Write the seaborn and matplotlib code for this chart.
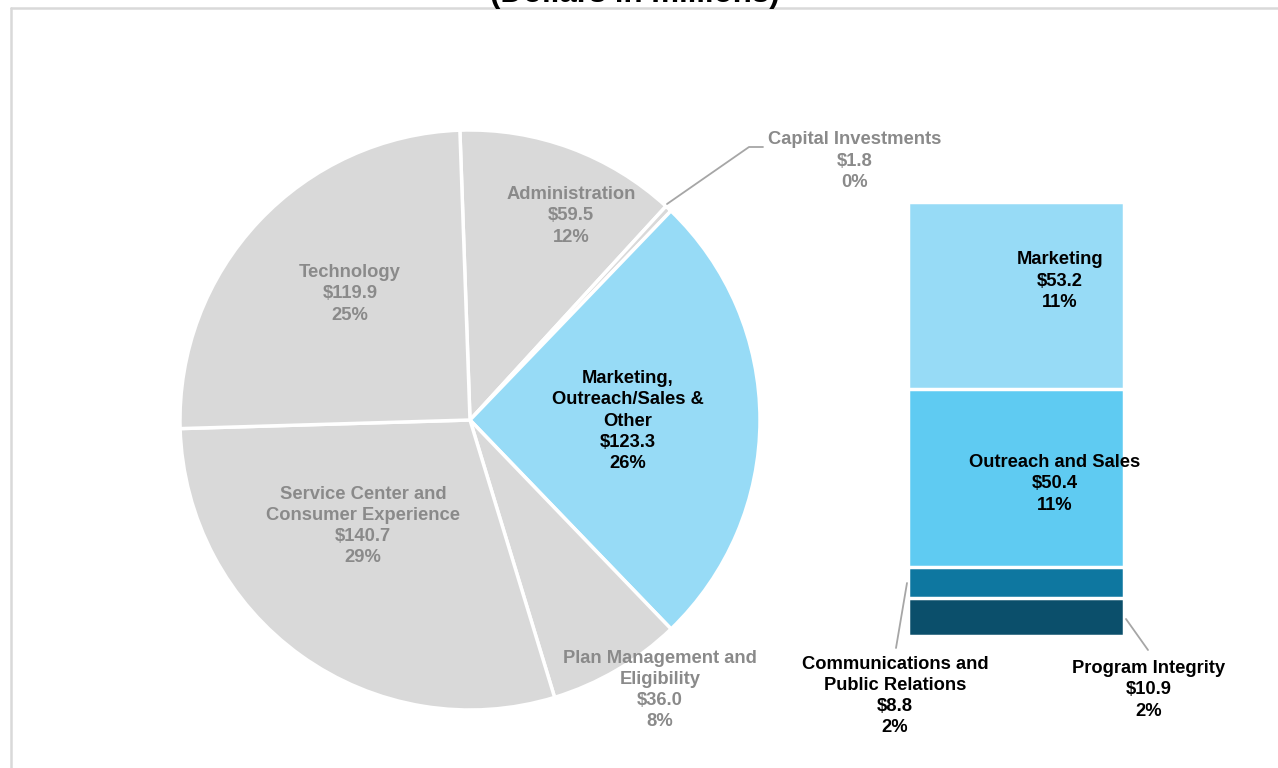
import numpy as np
import pandas as pd
import matplotlib
matplotlib.use("Agg")
import matplotlib.pyplot as plt
from matplotlib.lines import Line2D
import seaborn as sns

# ---- data (dollars in millions) ----
pie_labels = ["Administration", "Capital Investments", "Marketing,\nOutreach/Sales &\nOther",
              "Plan Management and\nEligibility", "Service Center and\nConsumer Experience", "Technology"]
pie_values = [59.5, 1.8, 123.3, 36.0, 140.7, 119.9]
pie_pcts = [12, 0, 26, 8, 29, 25]

bar_labels = ["Program Integrity", "Communications and\nPublic Relations", "Outreach and Sales", "Marketing"]
bar_values = [10.9, 8.8, 50.4, 53.2]
bar_pcts = [2, 2, 11, 11]

# ---- style ----
sns.set_theme(style="white")
plt.rcParams["font.family"] = ["Liberation Sans", "DejaVu Sans"]
plt.rcParams["font.weight"] = "bold"

GRAY_TXT = "#8a8a8a"
PIE_GRAY = "#d9d9d9"
LIGHT_BLUE = "#97dbf6"
pie_colors = [PIE_GRAY, PIE_GRAY, LIGHT_BLUE, PIE_GRAY, PIE_GRAY, PIE_GRAY]
bar_colors = ["#0b4f6b", "#0e77a0", "#5fcbf2", LIGHT_BLUE]

FS = 13.2
LS = 1.33

W, H = 1278, 768
fig = plt.figure(figsize=(W / 100, H / 100), dpi=100)
fig.patch.set_facecolor("white")


def px_axes(x0, y0, x1, y1):
    """Axes placed by pixel box (top-left origin)."""
    return fig.add_axes([x0 / W, 1 - y1 / H, (x1 - x0) / W, (y1 - y0) / H])


# frame lines
fig.add_artist(Line2D([11 / W, 11 / W], [0, 1 - 8 / H], color="#d9d9d9", lw=1.8))
fig.add_artist(Line2D([11 / W, 1.0], [1 - 8 / H, 1 - 8 / H], color="#d9d9d9", lw=1.8))

# title sitting at the very top edge
fig.text(635 / W, 1 - 2 / H, "(Dollars in millions)", ha="center", va="baseline",
         fontsize=22.5, fontweight="bold", color="black")

# ---- pie ----
cx, cy, R = 470, 420, 290
axp = px_axes(cx - 300, cy - 300, cx + 300, cy + 300)
axp.pie(pie_values, colors=pie_colors, startangle=92, counterclock=False, radius=R,
        wedgeprops=dict(edgecolor="white", linewidth=2.5))
axp.set_xlim(-300, 300)
axp.set_ylim(-300, 300)
axp.set_aspect("equal")
axp.axis("off")

pie_text_pos = [(571, 216), (855, 161), (628, 421), (660, 690), (363, 526), (350, 294)]
pie_text_col = [GRAY_TXT, GRAY_TXT, "black", GRAY_TXT, GRAY_TXT, GRAY_TXT]
for lab, v, p, (tx, ty), c in zip(pie_labels, pie_values, pie_pcts, pie_text_pos, pie_text_col):
    fig.text(tx / W, 1 - ty / H, f"{lab}\n${v:.1f}\n{p}%", ha="center", va="center",
             fontsize=FS, fontweight="bold", color=c, linespacing=LS)

# leader line for the small capital slice
fig.add_artist(Line2D(np.array([667, 749, 763]) / W, 1 - np.array([204, 147, 147]) / H,
                      color="#a6a6a6", lw=1.3))

# ---- stacked bar (cumulative overlays, tallest first) ----
bx0, bx1, by_top, by_bot = 900, 1131, 202, 636
axb = px_axes(bx0, by_top, bx1, by_bot)
cum = np.cumsum(bar_values)
for i in range(len(bar_values) - 1, -1, -1):
    df = pd.DataFrame({"grp": ["total"], "val": [cum[i]]})
    sns.barplot(data=df, x="grp", y="val", color=bar_colors[i], saturation=1,
                width=216 / 231, edgecolor="white", linewidth=2.5, ax=axb)
axb.set_xlim(-0.5, 0.5)
axb.set_ylim(0, cum[-1])
axb.axis("off")

bar_text_pos = [(1149, 690), (895, 696), (1055, 484), (1060, 281)]
for lab, v, p, (tx, ty) in zip(bar_labels, bar_values, bar_pcts, bar_text_pos):
    fig.text(tx / W, 1 - ty / H, f"{lab}\n${v:.1f}\n{p}%", ha="center", va="center",
             fontsize=FS, fontweight="bold", color="black", linespacing=LS)

# leader lines for the two thin bar segments
fig.add_artist(Line2D(np.array([907, 896]) / W, 1 - np.array([583, 648]) / H, color="#a6a6a6", lw=1.3))
fig.add_artist(Line2D(np.array([1126, 1148]) / W, 1 - np.array([619, 650]) / H, color="#a6a6a6", lw=1.3))

fig.savefig("out.png", dpi=100, facecolor="white")
